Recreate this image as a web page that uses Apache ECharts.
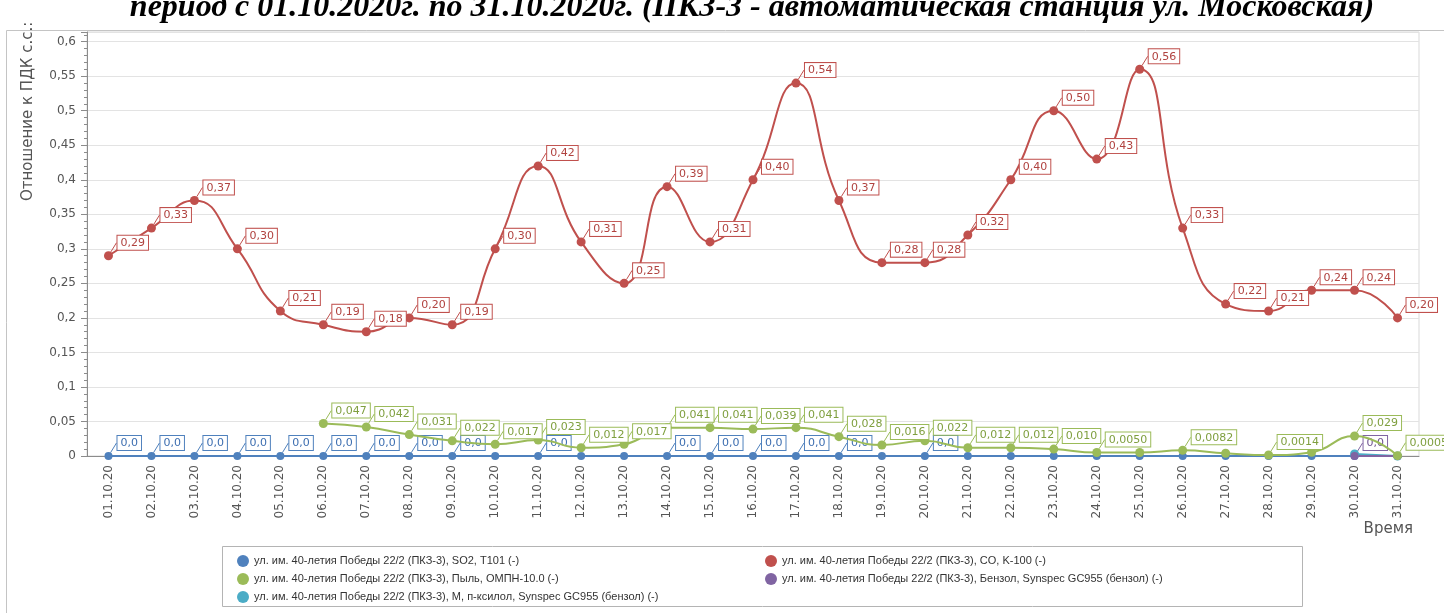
<!DOCTYPE html>
<html>
<head>
<meta charset="utf-8">
<script src="https://cdn.jsdelivr.net/npm/echarts@6/dist/echarts.min.js"></script>
<style>html,body{margin:0;padding:0;background:#fff;}#c{width:1444px;height:613px;}</style>
</head>
<body>
<div id="c"></div>
<script>
const dates = ['01.10.20','02.10.20','03.10.20','04.10.20','05.10.20','06.10.20','07.10.20','08.10.20','09.10.20','10.10.20','11.10.20','12.10.20','13.10.20','14.10.20','15.10.20','16.10.20','17.10.20','18.10.20','19.10.20','20.10.20','21.10.20','22.10.20','23.10.20','24.10.20','25.10.20','26.10.20','27.10.20','28.10.20','29.10.20','30.10.20','31.10.20'];
const yTicks = [0,0.05,0.1,0.15,0.2,0.25,0.3,0.35,0.4,0.45,0.5,0.55,0.6];
const so2 = [0,0,0,0,0,0,0,0,0,0,0,0,0,0,0,0,0,0,0,0,0,0,0,0,0,0,0,0,0,0,0];
const co = [0.29,0.33,0.37,0.30,0.21,0.19,0.18,0.20,0.19,0.30,0.42,0.31,0.25,0.39,0.31,0.40,0.54,0.37,0.28,0.28,0.32,0.40,0.50,0.43,0.56,0.33,0.22,0.21,0.24,0.24,0.20];
const dust = [null,null,null,null,null,0.047,0.042,0.031,0.022,0.017,0.023,0.012,0.017,0.041,0.041,0.039,0.041,0.028,0.016,0.022,0.012,0.012,0.010,0.0050,0.0050,0.0082,0.0040,0.0014,0.0055,0.029,0.0005];
const benzene = [null,null,null,null,null,null,null,null,null,null,null,null,null,null,null,null,null,null,null,null,null,null,null,null,null,null,null,null,null,0,0];
const xylene = [null,null,null,null,null,null,null,null,null,null,null,null,null,null,null,null,null,null,null,null,null,null,null,null,null,null,null,null,null,0.003,0];
// indices whose value labels are hidden in the picture
const so2Hidden = [9,11,12,18,20,21,22,23,24,25,26,27,28,29,30];
const dustHidden = [24,26,28];
const benzeneHidden = [30];
const xyleneHidden = [29,30];

const names = {
  so2: 'ул. им. 40-летия Победы 22/2 (ПКЗ-3), SO2, T101 (-)',
  co: 'ул. им. 40-летия Победы 22/2 (ПКЗ-3), CO, K-100 (-)',
  dust: 'ул. им. 40-летия Победы 22/2 (ПКЗ-3), Пыль, ОМПН-10.0 (-)',
  benz: 'ул. им. 40-летия Победы 22/2 (ПКЗ-3), Бензол, Synspec GC955 (бензол) (-)',
  xyl: 'ул. им. 40-летия Победы 22/2 (ПКЗ-3), М, п-ксилол, Synspec GC955 (бензол) (-)'
};

function fmt(v){
  if (v === 0) return '0,0';
  return Number(v).toPrecision(2).replace('.', ',');
}
function mk(values, hidden){
  return values.map((v,i)=> (v === null ? null : (hidden.indexOf(i) >= 0 ? {value:v,label:{show:false},labelLine:{show:false}} : v)));
}
function layout(p){
  return { x: p.rect.x + p.rect.width/2 + 9, y: p.rect.y + p.rect.height/2 - 6, align:'left', verticalAlign:'bottom' };
}
function series(name, values, hidden, color, textColor, size, z){
  return {
    name: name, type:'line', data: mk(values, hidden), smooth: 0.5, z: z,
    symbol:'circle', symbolSize: size, showSymbol:true,
    lineStyle:{color: color, width: 2},
    itemStyle:{color: color},
    label:{show:true, formatter: p => fmt(p.value), color: textColor, fontSize: 11,
      fontFamily:'DejaVu Sans', backgroundColor:'#fff', borderColor: color, borderWidth:1,
      padding:[2,3,1,3], position:'top'},
    labelLine:{show:true, lineStyle:{color: color, width:1}},
    labelLayout: layout,
    emphasis:{disabled:true}, animation:false
  };
}
const minorCats = [];
for (let i = 0; i < dates.length * 5; i++) minorCats.push('');

const chart = echarts.init(document.getElementById('c'), null, {renderer:'canvas'});
chart.setOption({
  animation:false,
  backgroundColor:'#fff',
  grid:{left:87, right:25, top:32, bottom:157, show:true, borderColor:'#d9d9d9', borderWidth:1},
  xAxis:[{
    type:'category', data: dates, boundaryGap:true,
    axisLine:{lineStyle:{color:'#8c8c8c'}},
    axisTick:{alignWithLabel:true, interval:0, length:6, lineStyle:{color:'#8c8c8c'}},
    axisLabel:{rotate:90, interval:0, color:'#555', fontSize:12, fontFamily:'DejaVu Sans', margin:9},
    splitLine:{show:false}
  },{
    type:'category', data: minorCats, boundaryGap:true, position:'bottom',
    axisLine:{show:false}, axisLabel:{show:false},
    axisTick:{alignWithLabel:true, interval:0, length:3, lineStyle:{color:'#8c8c8c'}}
  }],
  yAxis:{
    type:'value', min:0, max:0.614, interval:0.05,
    axisLine:{show:true, lineStyle:{color:'#8c8c8c'}},
    axisTick:{show:true, length:6, lineStyle:{color:'#8c8c8c'}},
    minorTick:{show:true, splitNumber:5, length:3, lineStyle:{color:'#8c8c8c'}},
    axisLabel:{color:'#555', fontSize:12, fontFamily:'DejaVu Sans', margin:11, showMaxLabel:false,
      formatter: v => { const t = yTicks.find(x => Math.abs(x - v) < 1e-9); return t === undefined ? '' : String(t).replace('.', ','); }},
    splitLine:{lineStyle:{color:'#e3e3e3'}}
  },
  legend:[{
    orient:'vertical', left:232, top:550, itemWidth:12, itemHeight:12, itemGap:6, icon:'circle',
    textStyle:{fontSize:11, fontFamily:'Liberation Sans', color:'#333'},
    data:[names.so2, names.dust, names.xyl], selectedMode:false
  },{
    orient:'vertical', left:760, top:550, itemWidth:12, itemHeight:12, itemGap:6, icon:'circle',
    textStyle:{fontSize:11, fontFamily:'Liberation Sans', color:'#333'},
    data:[names.co, names.benz], selectedMode:false
  }],
  graphic:[
    {type:'rect', silent:true, shape:{x:6.5, y:30.5, width:1500, height:700}, style:{fill:'none', stroke:'#c4c4c4', lineWidth:1}, z:-10},
    {type:'rect', silent:true, shape:{x:222.5, y:546.5, width:1080, height:60}, style:{fill:'none', stroke:'#b4b4b4', lineWidth:1}},
    {type:'text', silent:true, x:752, y:8, style:{text:'период с 01.10.2020г. по 31.10.2020г. (ПКЗ-3 - автоматическая станция ул. Московская)', font:'italic bold 32px "Liberation Serif"', fill:'#000', align:'center', verticalAlign:'middle'}},
    {type:'text', silent:true, x:28, y:201, rotation:Math.PI/2, style:{text:'Отношение к ПДК с.с.:', font:'15px "DejaVu Sans"', fill:'#555', align:'left', verticalAlign:'middle'}},
    {type:'text', silent:true, x:1413, y:529, style:{text:'Время', font:'15px "DejaVu Sans"', fill:'#555', align:'right', verticalAlign:'middle'}}
  ],
  series:[
    series(names.so2, so2, so2Hidden, '#4f81bd', '#3d6eb0', 8, 2),
    series(names.co, co, [], '#c0504d', '#b0423f', 9, 5),
    series(names.dust, dust, dustHidden, '#9bbb59', '#7f9f3f', 9, 4),
    series(names.xyl, xylene, xyleneHidden, '#4bacc6', '#3a95ad', 9, 3),
    series(names.benz, benzene, benzeneHidden, '#8064a2', '#6e5290', 8, 3)
  ]
});
</script>
</body>
</html>
